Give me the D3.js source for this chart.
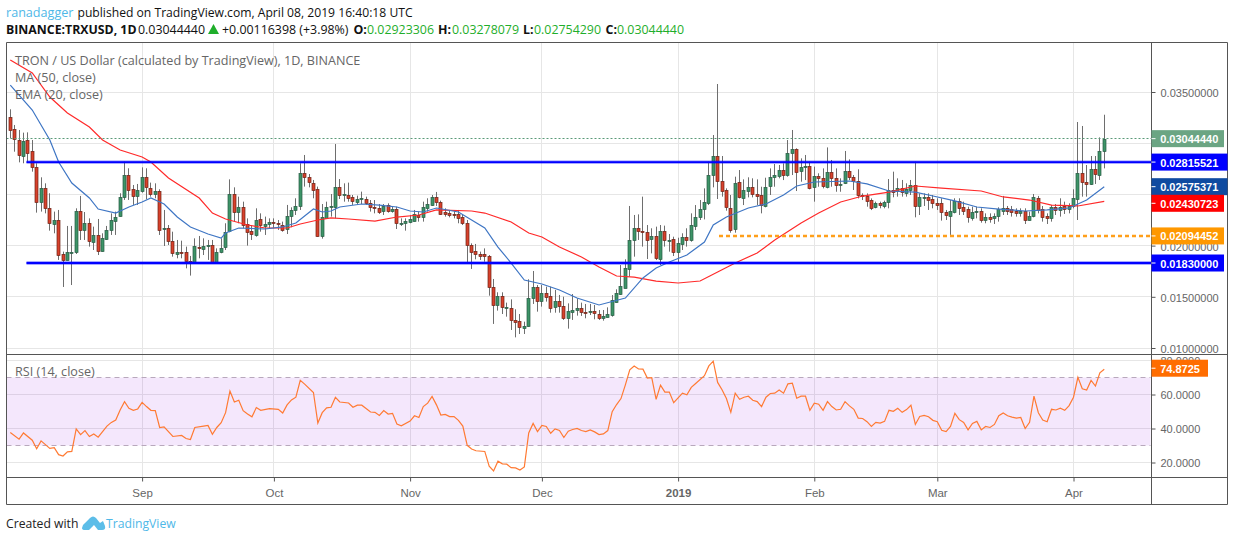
<!DOCTYPE html>
<html><head><meta charset="utf-8">
<script src="https://cdn.jsdelivr.net/npm/d3@7/dist/d3.min.js"></script>
<style>html,body{margin:0;padding:0;background:#fff}svg{display:block}</style></head>
<body><svg id="c" width="1234" height="541"></svg>
<script>
// Prices are in units of 0.00001 USD
const PRICE_UNIT = 1e-5;
const firstDay = Date.UTC(2018, 7, 2);
const opens = [3253,3136,3031,2878,3031,2921,2764,2419,2559,2364,
2211,2247,1918,1860,1931,1938,2335,2146,2218,2039,
2104,1951,2068,2153,2244,2283,2468,2686,2553,2485,
2527,2667,2559,2504,2530,2159,2169,2042,1921,1938,
1934,1847,1827,1983,1960,1993,2003,1834,1934,1980,
2136,2501,2322,2374,2211,2146,2097,2257,2192,2205,
2231,2218,2205,2159,2283,2341,2384,2706,2667,2612,
2550,2087,2276,2377,2374,2569,2498,2494,2472,2426,
2449,2452,2413,2374,2367,2338,2393,2338,2354,2211,
2224,2231,2240,2302,2279,2367,2397,2472,2426,2325,
2315,2309,2305,2279,2218,2006,1944,1918,1915,1895,
1593,1420,1505,1391,1388,1274,1261,1199,1208,1482,
1593,1459,1537,1508,1394,1456,1407,1287,1345,1365,
1391,1352,1345,1358,1332,1296,1306,1322,1452,1527,
1586,1775,2048,2169,2142,2136,2061,2090,1869,2139,
2048,2061,1931,2012,2081,2048,2195,2276,2354,2413,
2683,2872,2627,2540,2370,2156,2618,2458,2536,2569,
2501,2491,2387,2575,2663,2683,2738,2689,2901,2943,
2722,2761,2774,2566,2676,2657,2566,2715,2657,2585,
2605,2725,2667,2627,2491,2487,2445,2370,2413,2387,
2419,2543,2530,2559,2507,2543,2589,2380,2468,2475,
2455,2416,2413,2325,2289,2332,2436,2377,2354,2273,
2325,2338,2250,2279,2266,2283,2341,2367,2354,2338,
2322,2338,2253,2283,2462,2358,2293,2263,2377,2345,
2387,2358,2381,2455,2706,2621,2602,2745,2693,2923];
const highs = [3331,3178,3129,3103,3106,3031,2804,2667,2608,2511,
2332,2348,1941,2192,2192,2364,2485,2328,2266,2185,
2260,2120,2192,2315,2332,2511,2820,2755,2592,2602,
2764,2755,2615,2608,2550,2348,2201,2136,2055,2048,
1990,1899,2071,2094,2071,2055,2055,1973,2071,2218,
2647,2569,2478,2429,2266,2201,2364,2315,2283,2266,
2266,2250,2234,2397,2374,2462,2804,2885,2699,2641,
2576,2406,2429,2504,2992,2650,2608,2615,2494,2488,
2527,2478,2445,2445,2406,2406,2413,2387,2380,2266,
2266,2299,2348,2332,2429,2462,2494,2524,2439,2364,
2348,2341,2348,2299,2250,2022,2016,1941,1973,1908,
1674,1544,1544,1443,1475,1378,1332,1257,1671,1752,
1615,1615,1599,1599,1567,1518,1501,1436,1527,1485,
1443,1430,1430,1420,1371,1371,1397,1517,1573,1810,
1866,2387,2299,2305,2478,2201,2169,2185,2201,2195,
2113,2087,2077,2120,2169,2315,2396,2445,2559,2820,
3080,3578,2875,2559,2494,2673,2738,2647,2667,2657,
2647,2575,2663,2754,2797,2787,2803,3031,3129,2950,
2852,2885,2820,2771,2706,2754,2959,2836,2754,2657,
2924,2842,2689,2745,2510,2510,2461,2429,2429,2439,
2650,2722,2657,2641,2608,2641,2820,2510,2510,2510,
2494,2462,2462,2348,2445,2462,2462,2429,2380,2380,
2380,2364,2315,2315,2315,2374,2485,2387,2387,2364,
2364,2364,2332,2504,2485,2387,2315,2397,2406,2462,
2429,2413,2550,3207,3168,2787,2875,2875,3057,3278];
const lows = [3048,2917,2813,2804,2813,2722,2322,2332,2315,2146,
2120,1860,1596,1855,1615,1918,2055,2055,1990,1957,
1908,1941,2055,2104,2104,2283,2446,2446,2397,2397,
2517,2452,2478,2462,2104,1996,2006,1892,1876,1876,
1778,1707,1827,1876,1908,1860,1827,1827,1925,1957,
2130,2234,2218,2169,2000,2055,2087,2136,2104,2169,
2169,2153,2136,2113,2179,2299,2348,2576,2569,2462,
2087,2068,2266,2283,2266,2455,2429,2429,2397,2397,
2406,2397,2332,2315,2309,2299,2322,2322,2162,2192,
2146,2218,2234,2234,2234,2332,2387,2387,2299,2283,
2276,2266,2218,2201,1827,1772,1866,1860,1843,1511,
1235,1365,1332,1306,1176,1104,1137,1137,1208,1430,
1355,1404,1453,1345,1345,1345,1274,1189,1274,1316,
1313,1290,1322,1280,1274,1267,1299,1306,1442,1518,
1583,1697,1892,2055,1990,1869,1924,1859,1810,1990,
1941,1898,1827,1957,1990,2038,2152,2250,2256,2396,
2569,2455,2478,2341,2126,2126,2461,2396,2471,2471,
2396,2315,2374,2494,2575,2657,2640,2673,2689,2533,
2624,2640,2549,2429,2575,2559,2559,2575,2526,2526,
2601,2640,2543,2461,2445,2380,2347,2364,2364,2364,
2364,2472,2478,2478,2478,2494,2276,2299,2387,2348,
2364,2348,2244,2250,2104,2315,2299,2299,2224,2244,
2266,2224,2218,2224,2211,2234,2299,2299,2283,2283,
2283,2211,2244,2276,2315,2234,2211,2234,2299,2283,
2309,2315,2364,2250,2478,2478,2592,2602,2641,2754];
const closes = [3123,3038,2885,3022,2908,2761,2419,2559,2361,2214,
2247,1908,1860,1934,1938,2335,2146,2218,2039,2104,
1951,2074,2153,2247,2280,2472,2686,2540,2485,2543,
2667,2566,2504,2530,2153,2169,2039,1921,1938,1931,
1850,1827,1993,1970,1993,2006,1834,1934,1973,2130,
2501,2322,2374,2201,2136,2120,2247,2198,2208,2227,
2218,2205,2159,2286,2345,2384,2706,2664,2615,2543,
2094,2276,2380,2387,2569,2488,2504,2468,2429,2452,
2462,2416,2371,2361,2328,2387,2338,2354,2221,2218,
2240,2260,2309,2279,2374,2406,2472,2419,2312,2309,
2299,2302,2270,2224,2000,1941,1912,1899,1892,1589,
1420,1505,1394,1397,1267,1254,1199,1215,1485,1593,
1459,1534,1501,1394,1456,1404,1287,1358,1368,1388,
1355,1345,1358,1335,1293,1312,1332,1468,1540,1605,
1778,2055,2169,2136,2136,2055,2094,1872,2139,2048,
2055,1931,2022,2081,2048,2198,2279,2354,2422,2686,
2872,2624,2527,2370,2159,2608,2471,2540,2572,2497,
2478,2390,2569,2667,2686,2738,2689,2901,2940,2722,
2764,2774,2556,2676,2653,2575,2715,2653,2585,2598,
2725,2663,2627,2487,2478,2439,2370,2413,2390,2422,
2540,2520,2559,2520,2550,2589,2380,2472,2475,2449,
2416,2397,2322,2293,2335,2439,2371,2338,2273,2328,
2338,2250,2279,2263,2289,2354,2367,2341,2328,2319,
2341,2250,2289,2472,2341,2283,2273,2374,2348,2374,
2361,2387,2462,2706,2615,2605,2745,2693,2927,3044];

// EMA(20): day offset from firstDay, value
const emaDays = [0,5,9,11,14,18,20,24,27,30,32,35,38,41,45,48,49,52,58,62,65,69,71,73,75,80,84,88,91,94,97,102,108,111,114,117,121,125,129,134,140,144,147,150,154,158,160,163,168,172,176,179,183,191,195,200,206,209,215,220,225,231,236,241,245,249];
const emaValues = [3568,3324,3031,2816,2611,2465,2357,2318,2377,2426,2465,2406,2279,2182,2113,2074,2123,2172,2162,2182,2221,2357,2328,2338,2377,2406,2396,2377,2338,2328,2367,2328,2172,1986,1830,1664,1625,1566,1488,1420,1488,1684,1781,1840,1908,2035,2201,2279,2367,2406,2494,2582,2621,2631,2602,2533,2523,2494,2436,2377,2357,2338,2348,2367,2445,2575];
// MA(50)
const maDays = [0,5,9,13,18,21,25,30,32,36,43,46,49,54,58,63,66,70,73,77,83,88,93,97,105,108,114,118,121,125,130,134,138,142,147,152,157,161,165,170,174,180,184,189,194,200,206,212,221,226,232,237,243,249];
const maValues = [3812,3686,3451,3295,3158,3031,2934,2865,2816,2660,2465,2318,2260,2201,2172,2172,2211,2250,2270,2260,2240,2279,2299,2348,2338,2318,2230,2123,2084,1986,1889,1791,1703,1693,1654,1635,1654,1742,1830,1928,2055,2221,2318,2426,2484,2523,2582,2562,2533,2475,2445,2396,2387,2431];
// RSI(14)
const rsiDays = [0,2,3,5,6,7,9,10,11,12,13,14,15,16,17,18,19,20,22,23,24,25,26,27,28,29,30,31,32,33,34,35,37,39,40,41,42,44,45,46,47,48,49,50,51,52,53,54,55,56,57,59,61,62,63,64,65,66,67,69,70,71,72,73,74,75,77,78,79,80,82,83,84,85,86,87,88,89,91,92,93,94,95,96,97,98,99,100,101,102,103,104,105,106,108,109,110,111,112,113,114,115,116,117,118,119,120,121,122,123,124,125,126,127,128,129,130,131,132,133,134,135,136,137,138,139,140,141,142,143,144,145,146,147,148,149,150,151,153,154,155,156,158,159,160,161,162,163,164,165,166,167,168,169,170,171,172,173,174,175,176,177,178,179,180,181,182,183,184,185,186,187,188,189,190,191,192,193,194,195,196,197,198,199,200,201,202,203,204,205,206,207,208,209,210,211,212,213,214,215,216,217,218,219,220,221,222,223,224,225,226,227,228,229,230,231,232,233,234,235,236,237,238,239,240,241,242,243,244,245,246,247,248,249];
const rsiValues = [37.6,33.7,37.4,33.1,28.1,32.7,28.3,28.7,24.6,23.8,26.3,26.5,39.8,36.4,38.8,35.3,36.8,34.9,41.4,43.6,45,50.9,55.8,51.9,50.7,51.5,55.4,52.9,50.7,50.5,40.6,41,35.3,35.9,34.1,33.5,40.6,41.4,41.8,36.6,40.6,43.4,49.3,62,55.6,56.6,50.5,48.5,46.9,52.3,50.7,51.7,51.3,49.1,53.9,56.8,58.4,68.3,66.1,61.2,43.2,49.3,52.1,52.5,58.4,55.6,55,52.5,53.7,53.7,49.7,49.5,47.7,50.5,48.5,48.9,42.6,41.6,44.4,47.5,46.5,52.9,54.9,58.8,53.9,47.9,48.3,47,47,44.8,41.4,30.1,27.9,26.9,26.5,17.8,15,20.8,19.2,19,17,16.8,15.6,17.4,37.4,43,38.2,41.8,41.2,37.2,39.8,38.8,34.7,38.4,39.4,40,38.8,38.2,39.2,38,36.4,36.8,38.8,49.9,54.1,57.6,65.7,74.5,76.8,75,74.9,69.7,69.9,57.2,65.5,61.4,61.4,55.2,60.8,59.8,64.2,66.5,71.1,76.8,79.6,67.1,62.8,57.6,49.5,60.8,57.2,58.4,59,56.6,55.8,52.9,58.4,60.6,60.8,62.6,60.8,66.3,66.7,57.8,59,59,50.7,54.9,54.3,50.7,55.8,52.9,50.9,51.3,55.8,53.3,51.3,46.1,45.9,44,41.2,43.6,43.2,44.2,50.7,50.1,51.9,49.5,51.1,53.7,42.4,47.1,47.7,46.9,44.8,44,39,38.2,41.2,48.9,45.2,43.6,39.2,43,44.2,39.2,41.2,40.6,42.4,47.5,49.1,47.5,46.7,46.1,46.5,40,43.6,59,49.3,45,44,51.3,50.9,51.9,50.7,53.5,58.4,70.1,63.4,62.6,68.3,65,72.7,74.87];

const priceGrid = [0.035,0.03,0.025,0.02,0.015,0.01];
const priceLabels = [0.035,0.02,0.015,0.01]; // 0.03 and 0.025 sit fully under the price tags
const rsiTicks = [80,60,40,20];
const rsiBand = [70,30];
const monthTicks = [[2018,8,"Sep"],[2018,9,"Oct"],[2018,10,"Nov"],[2018,11,"Dec"],[2019,0,"2019"],[2019,1,"Feb"],[2019,2,"Mar"],[2019,3,"Apr"]];
const hLevels = [0.02815521,0.0183];
const dashLevel = 0.02094452;
const lastPrice = 0.0304444, emaLast = 0.02575371, maLast = 0.02430723, rsiLast = 74.8725;

const svg = d3.select("#c");
const L = 6.5, R = 1151.5, RO = 1227.5, T = 42.5, SEP = 354.5, B = 477.5, BO = 504.5;
const day = 864e5;
const x = d3.scaleUtc().domain([new Date(firstDay), new Date(Date.UTC(2019,3,1))]).range([10.3,1073.5]);
const y = d3.scaleLinear().domain([0.01,0.035]).range([348,92]);
const yR = d3.scaleLinear().domain([20,60]).range([462.5,394.5]);
const dayDate = d => new Date(firstDay + d*day);
const axisFont = "'Liberation Sans',Arial,sans-serif", uiFont = "'Open Sans','Noto Sans',sans-serif";
const crisp = v => Math.floor(v)+0.5;

const main = svg.append("g");
const defs = svg.append("defs");
defs.append("clipPath").attr("id","pm").append("rect").attr("x",L).attr("y",T).attr("width",R-L).attr("height",SEP-T);
defs.append("clipPath").attr("id","pr").append("rect").attr("x",L).attr("y",SEP).attr("width",R-L).attr("height",B-SEP);

// grid
const monthDates = monthTicks.map(m=>new Date(Date.UTC(m[0],m[1],1)));
main.append("g").selectAll("line").data(monthDates).join("line")
  .attr("x1",d=>crisp(x(d))).attr("x2",d=>crisp(x(d))).attr("y1",T).attr("y2",B).attr("stroke","#e6e6e6");
main.append("g").selectAll("line").data(priceGrid).join("line")
  .attr("x1",L).attr("x2",R).attr("y1",d=>crisp(y(d))).attr("y2",d=>crisp(y(d))).attr("stroke","#e6e6e6");
main.append("g").selectAll("line").data(rsiTicks).join("line")
  .attr("x1",L).attr("x2",R).attr("y1",d=>crisp(yR(d))).attr("y2",d=>crisp(yR(d))).attr("stroke","#e6e6e6");

// candles
const candles = opens.map((o,i)=>({date:dayDate(i),o:o*PRICE_UNIT,h:highs[i]*PRICE_UNIT,l:lows[i]*PRICE_UNIT,c:closes[i]*PRICE_UNIT}));
const cg = main.append("g").attr("clip-path","url(#pm)");
cg.append("g").selectAll("line").data(candles).join("line")
  .attr("x1",d=>crisp(x(d.date))).attr("x2",d=>crisp(x(d.date)))
  .attr("y1",d=>y(d.h)).attr("y2",d=>y(d.l)).attr("stroke","#6e6e6e").attr("stroke-width",1);
cg.append("g").selectAll("rect").data(candles).join("rect")
  .attr("x",d=>crisp(x(d.date))-1.5).attr("width",3)
  .attr("y",d=>Math.round(y(Math.max(d.o,d.c)))+0.5)
  .attr("height",d=>Math.max(1,Math.round(Math.abs(y(d.o)-y(d.c)))))
  .attr("fill",d=>d.c>=d.o?"#3d9467":"#d8412c")
  .attr("stroke",d=>d.c>=d.o?"#275a43":"#6b2013").attr("stroke-width",0.7);

// MA lines
const priceLine = d3.line().x(d=>x(d.date)).y(d=>y(d.v));
const toSeries = (days,vals)=>days.map((d,i)=>({date:dayDate(d),v:vals[i]*PRICE_UNIT}));
cg.append("path").attr("d",priceLine(toSeries(maDays,maValues))).attr("fill","none").attr("stroke","#ff2a2a").attr("stroke-width",1.2);
cg.append("path").attr("d",priceLine(toSeries(emaDays,emaValues))).attr("fill","none").attr("stroke","#3f76c4").attr("stroke-width",1.2);

// last price dotted line
main.append("line").attr("x1",L).attr("x2",R).attr("y1",crisp(y(lastPrice))).attr("y2",crisp(y(lastPrice)))
  .attr("stroke","#5a9a78").attr("stroke-dasharray","2 2");

// horizontal levels
main.append("g").selectAll("line").data(hLevels).join("line")
  .attr("x1",26.5).attr("x2",R).attr("y1",d=>y(d)).attr("y2",d=>y(d))
  .attr("stroke","#0000ff").attr("stroke-opacity",0.45).attr("stroke-width",3.4);
main.append("g").selectAll("line").data(hLevels).join("line")
  .attr("x1",26.5).attr("x2",R).attr("y1",d=>y(d)).attr("y2",d=>y(d))
  .attr("stroke","#0000ff").attr("stroke-width",1.8);
main.append("line").attr("x1",719).attr("x2",R).attr("y1",y(dashLevel)).attr("y2",y(dashLevel))
  .attr("stroke","#ff9f1a").attr("stroke-width",2.4).attr("stroke-dasharray","4 3");

// RSI band
main.append("rect").attr("x",L).attr("width",R-L-1).attr("y",yR(70)).attr("height",yR(30)-yR(70)).attr("fill","#9c27e0").attr("opacity",0.11);
main.append("g").selectAll("line").data(rsiBand).join("line")
  .attr("x1",L).attr("x2",R-1).attr("y1",d=>crisp(yR(d))).attr("y2",d=>crisp(yR(d)))
  .attr("stroke","#b8a8bc").attr("stroke-dasharray","5 4");
const rsiLine = d3.line().x(d=>x(d.date)).y(d=>yR(d.v));
main.append("path").attr("clip-path","url(#pr)").attr("d",rsiLine(rsiDays.map((d,i)=>({date:dayDate(d),v:rsiValues[i]}))))
  .attr("fill","none").attr("stroke","#ff7a33").attr("stroke-width",1.2);

// frame
const frame = [[L,T,RO,T],[L,SEP,RO,SEP],[L,B,RO,B],[L,BO,RO,BO],[L,T,L,BO],[R,T,R,BO],[RO,T,RO,BO]];
main.append("g").selectAll("line").data(frame).join("line")
  .attr("x1",d=>d[0]).attr("y1",d=>d[1]).attr("x2",d=>d[2]).attr("y2",d=>d[3]).attr("stroke","#555");

// axes
const styleAxis = g => { g.select(".domain").remove(); g.selectAll("line").attr("stroke","#555");
  g.selectAll("text").attr("fill","#666").attr("font-family",axisFont).attr("font-size",11); };
const pa = main.append("g").attr("transform",`translate(${R},0)`).call(d3.axisRight(y).tickValues(priceLabels).tickSize(4).tickPadding(5).tickFormat(d3.format(".8f"))).call(styleAxis);
pa.selectAll("text").attr("dy","1.3em").attr("dy",null).attr("y",0).attr("dy","0.45em");
main.append("g").attr("transform",`translate(${R},0)`).call(d3.axisRight(yR).tickValues(rsiTicks).tickSize(4).tickPadding(5).tickFormat(d3.format(".4f"))).call(styleAxis);
const xa = main.append("g").attr("transform",`translate(0,${B})`).call(d3.axisBottom(x).tickValues(monthDates).tickSize(4).tickPadding(7).tickFormat((d,i)=>monthTicks[i][2])).call(styleAxis);
xa.selectAll("text").attr("font-size",11.5).filter(d=>d.getUTCFullYear()===2019&&d.getUTCMonth()===0).attr("font-weight","bold");

// price tags
const tags = [
 {t:d3.format(".8f")(lastPrice),v:y(lastPrice),c:"#6ba583",w:72.5},
 {t:d3.format(".8f")(hLevels[0]),v:y(hLevels[0]),c:"#0000ff",w:76},
 {t:d3.format(".8f")(emaLast),v:y(emaLast),c:"#0f4ba0",w:76},
 {t:d3.format(".8f")(maLast),v:y(maLast)+1.8,c:"#ff0000",w:72.5},
 {t:d3.format(".8f")(dashLevel),v:y(dashLevel),c:"#ff9800",w:72.5},
 {t:d3.format(".8f")(hLevels[1]),v:y(hLevels[1]),c:"#0000ff",w:72.5},
 {t:rsiLast.toFixed(4),v:yR(rsiLast)-1,c:"#ff6d00",w:56.5}
];
const tg = main.append("g").selectAll("g").data(tags).join("g").attr("transform",d=>`translate(${R},${d.v})`);
tg.append("rect").attr("x",0).attr("y",-8.5).attr("width",d=>d.w).attr("height",17).attr("fill",d=>d.c);
tg.append("line").attr("x1",0).attr("x2",4).attr("stroke","#fff").attr("stroke-width",1);
tg.append("text").attr("x",8.7).attr("y",4.5).attr("fill","#fff").attr("font-family",axisFont).attr("font-size",11).attr("font-weight","bold").text(d=>d.t);

// legends
const legend = [["TRON / US Dollar (calculated by TradingView), 1D, BINANCE",65],["MA (50, close)",82],["EMA (20, close)",99],["RSI (14, close)",376]];
main.append("g").selectAll("text").data(legend).join("text").attr("x",15).attr("y",d=>d[1])
  .attr("font-family",uiFont).attr("font-size",12.6).attr("fill","#666").text(d=>d[0]);

// header
const black="#111", grn="#1fae2b";
const header = [
 ["ranadagger",6,17,"#4fb8e8",400,12.6],
 ["published on TradingView.com, April 08, 2019 16:40:18 UTC",77.5,17,black,400,12.15],
 ["BINANCE:TRXUSD, 1D",6,34,black,700,12.3],
 ["0.03044440",138,34,black,400,12.4],
 ["+0.00116398 (+3.98%)",222,34,black,400,12.4],
 ["O:",353.5,34,black,700,12.4],["0.02923306",367,34,grn,400,12.4],
 ["H:",438,34,black,700,12.4],["0.03278079",452,34,grn,400,12.4],
 ["L:",523,34,black,700,12.4],["0.02754290",534,34,grn,400,12.4],
 ["C:",605.5,34,black,700,12.4],["0.03044440",617,34,grn,400,12.4]];
svg.append("g").selectAll("text").data(header).join("text").attr("x",d=>d[1]).attr("y",d=>d[2]).attr("fill",d=>d[3])
  .attr("font-weight",d=>d[4]).attr("font-family",uiFont).attr("font-size",d=>d[5]).text(d=>d[0]);
svg.append("path").attr("d","M208 34 L213.5 24 L219 34 Z").attr("fill",grn);

// footer
svg.append("text").attr("x",6).attr("y",528).attr("font-family",uiFont).attr("font-size",12.2).attr("fill","#222").text("Created with");
svg.append("path").attr("d","M82 528 Q82 525 85 523 L90 518 Q93 515 96 518 L100 523 L103 521 L105 526 Q106 530 102 530 L98 530 L94 525 L89 530 L85 530 Q82 530 82 528 Z").attr("fill","#5cbde8");
svg.append("text").attr("x",106).attr("y",528).attr("font-family",uiFont).attr("font-size",12.2).attr("fill","#4fb8e8").text("TradingView");
</script></body></html>
